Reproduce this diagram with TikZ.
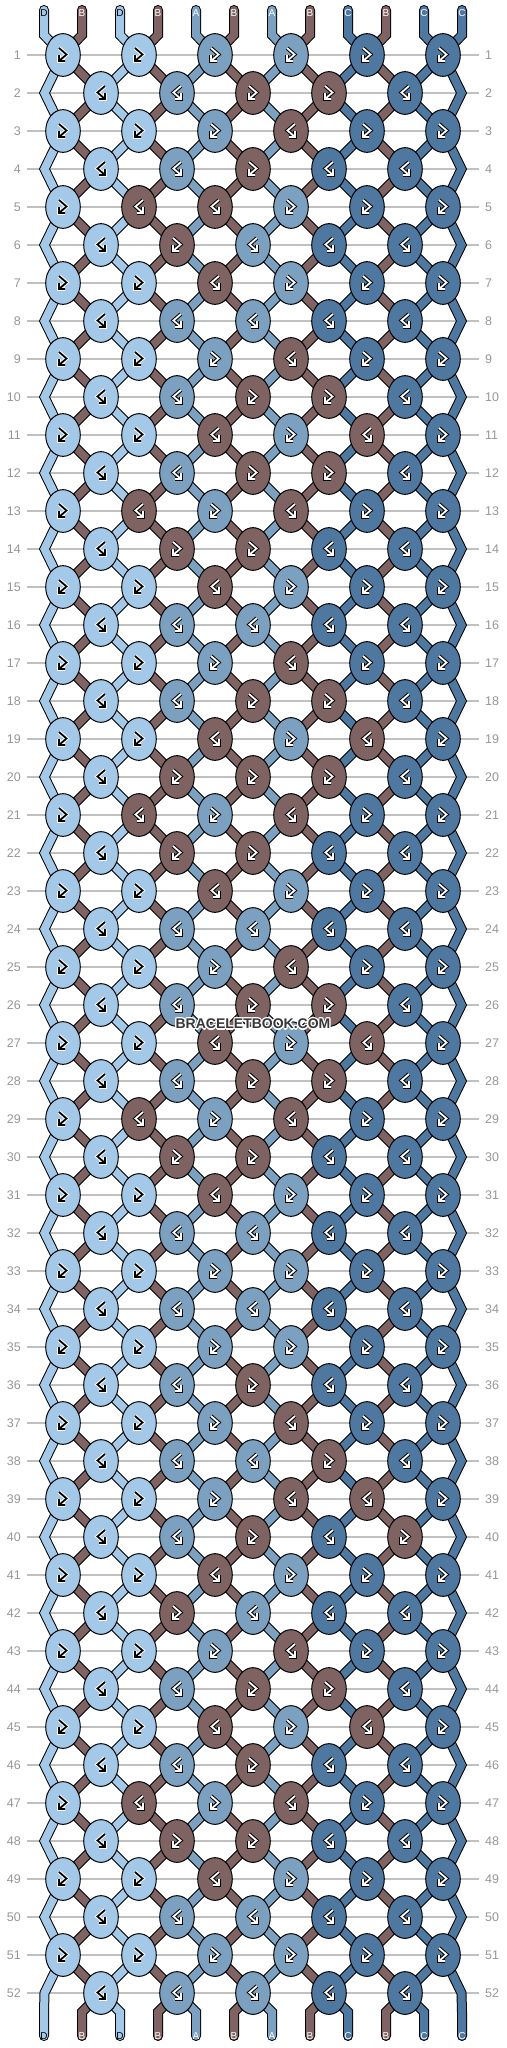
\documentclass[tikz,border=0pt]{standalone}
\usepackage{fontspec}
\setmainfont{Liberation Sans}
\usepackage{tikz}
\usetikzlibrary{positioning, shapes.geometric, backgrounds}
\definecolor{strD}{RGB}{163,200,232}
\definecolor{strA}{RGB}{123,160,192}
\definecolor{strB}{RGB}{127,99,98}
\definecolor{strC}{RGB}{79,120,161}
\definecolor{numgray}{RGB}{150,150,150}
\definecolor{linegray}{RGB}{192,192,192}
\definecolor{sitegray}{RGB}{55,55,55}
\def\brn{B}
\def\lgt{D}
\tikzset{
  knot/.style={ellipse, draw=black, line width=1pt, minimum width=34.6pt, minimum height=42.7pt, inner sep=0pt},
  rownum/.style={text=numgray, font=\fontsize{12.5}{14}\selectfont, inner sep=0pt},
  gridline/.style={draw=linegray, line width=1.2pt},
  tag/.style={font=\fontsize{10}{12}\selectfont, inner sep=0pt},
  sitetext/.style={font=\fontsize{14}{16}\selectfont\bfseries, inner sep=0pt},
  pics/knotmark/.style 2 args={code={
    \draw[#2, line width=3.8pt, line cap=square] (-4,-7) -- (3.5,-0.5) -- (-4,6) (2,6) -- (-4,6) -- (-4,0);
    \draw[#1, line width=1.8pt] (-4,-7) -- (3.5,-0.5) -- (-4,6) (2,6) -- (-4,6) -- (-4,0);
  }}
}

\begin{document}
\begin{tikzpicture}[x=1pt, y=-1pt]
    \useasboundingbox (0,0) rectangle (506,2048);

    \foreach \r/\kp in {1/{D,D,A,A,C,C}, 2/{D,A,B,B,C}, 3/{D,D,A,B,C,C}, 4/{D,A,B,C,C},
        5/{D,B,B,A,C,C}, 6/{D,B,A,C,C}, 7/{D,D,B,A,C,C}, 8/{D,A,A,C,C},
        9/{D,D,A,B,C,C}, 10/{D,A,B,B,C}, 11/{D,D,B,A,B,C}, 12/{D,A,B,B,C},
        13/{D,B,A,B,C,C}, 14/{D,B,B,C,C}, 15/{D,D,B,A,C,C}, 16/{D,A,A,C,C},
        17/{D,D,A,B,C,C}, 18/{D,A,B,B,C}, 19/{D,D,B,A,B,C}, 20/{D,B,B,B,C},
        21/{D,B,A,B,C,C}, 22/{D,B,B,C,C}, 23/{D,D,B,A,C,C}, 24/{D,A,A,C,C},
        25/{D,D,A,B,C,C}, 26/{D,A,B,B,C}, 27/{D,D,B,A,B,C}, 28/{D,A,B,B,C},
        29/{D,B,A,B,C,C}, 30/{D,B,B,C,C}, 31/{D,D,B,A,C,C}, 32/{D,A,A,C,C},
        33/{D,D,A,A,C,C}, 34/{D,A,A,C,C}, 35/{D,D,A,A,C,C}, 36/{D,A,B,C,C},
        37/{D,D,A,B,C,C}, 38/{D,A,A,B,C}, 39/{D,D,A,B,B,C}, 40/{D,A,B,C,B},
        41/{D,D,B,A,C,C}, 42/{D,B,A,C,C}, 43/{D,D,A,B,C,C}, 44/{D,A,B,B,C},
        45/{D,D,B,A,B,C}, 46/{D,A,B,C,C}, 47/{D,B,A,B,C,C}, 48/{D,B,B,C,C},
        49/{D,D,B,A,C,C}, 50/{D,A,A,C,C}, 51/{D,D,A,A,C,C}, 52/{D,A,A,C,C}} {
        \pgfmathsetmacro\y{55+38*(\r-1)}
        \node[rownum, anchor=east] (ln-\r) at (21,\y) {\r};
        \node[rownum, anchor=west] (rn-\r) at (485,\y) {\r};
        \begin{scope}[on background layer]
            \draw[gridline] ([xshift=6pt]ln-\r.east) -- ([xshift=-6pt]rn-\r.west);
        \end{scope}
        \ifodd\r\relax\else
            \coordinate (k-\r-0) at (44.5,\y);
            \coordinate (k-\r-6) at (461.5,\y);
        \fi
        \foreach \kc [count=\j] in \kp {
            \ifodd\r\relax \pgfmathsetmacro\x{76*\j-13}\else \pgfmathsetmacro\x{76*\j+25}\fi
            \node[knot, fill=str\kc] (k-\r-\j) at (\x,\y) {};
            \ifx\kc\brn \def\kb{1}\else \def\kb{0}\fi
            \pgfmathtruncatemacro\ks{\r+\kb}
            \ifodd\ks\relax \def\kf{1}\else \def\kf{-1}\fi
            \ifx\kc\lgt \def\mcore{black}\def\mrim{white}\else \def\mcore{white}\def\mrim{black}\fi
            \pic[xscale=\kf] at (k-\r-\j) {knotmark={\mcore}{\mrim}};
        }
    }

    \foreach \i/\sc in {1/D,2/B,3/D,4/B,5/A,6/B,7/A,8/B,9/C,10/B,11/C,12/C} {
        \pgfmathsetmacro\x{44+38*(\i-1)}
        \coordinate (top-\i) at (\x,10);
        \coordinate (tb-\i) at (\x,35);
        \coordinate (bb-\i) at (\x,2012);
        \coordinate (bot-\i) at (\x,2036);
        \begin{scope}[on background layer]
            \foreach \w/\cl in {10/black,8/str\sc}
                \draw[line width=\w pt, draw=\cl, line cap=round] (top-\i) -- (tb-\i)
                    \foreach \r [evaluate=\r as \j using int((\i+\r-2*int(\r/2))/2)] in {1,...,52} { -- (k-\r-\j.center) }
                    -- (bb-\i) -- (bot-\i);
        \end{scope}
        \ifx\sc\lgt \def\tc{black}\else \def\tc{white}\fi
        \node[tag, text=\tc] (tt-\i) at (\x,13) {\sc};
        \node[tag, text=\tc] (bt-\i) at (bot-\i) {\sc};
    }

    \foreach \dx/\dy [count=\n] in {-1.2/0,1.2/0,0/-1.2,0/1.2,-0.9/-0.9,0.9/0.9,-0.9/0.9,0.9/-0.9}
        \node[sitetext, text=white] (halo-\n) at (253+\dx,1024+\dy) {BRACELETBOOK.COM};
    \node[sitetext, text=sitegray] (site) at (253,1024) {BRACELETBOOK.COM};
\end{tikzpicture}
\end{document}
